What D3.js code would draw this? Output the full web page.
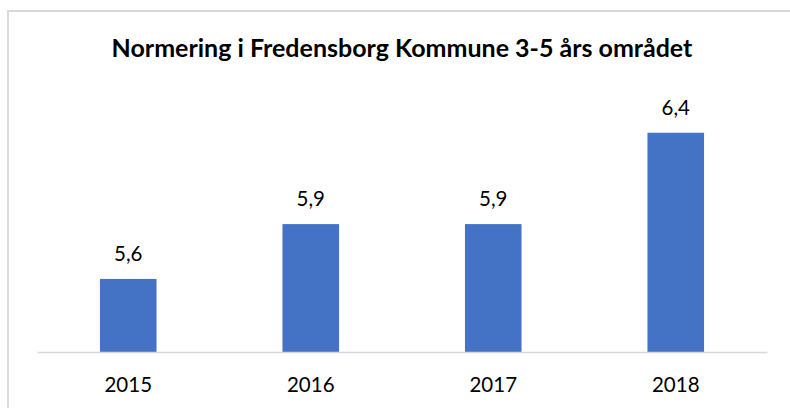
<!DOCTYPE html>
<html>
<head>
<meta charset="utf-8">
<script src="https://cdn.jsdelivr.net/npm/d3@7/dist/d3.min.js"></script>
<style>
  html, body { margin: 0; padding: 0; background: #fff; }
  svg { display: block; }
</style>
</head>
<body>
<svg id="chart" width="790" height="408"></svg>
<script>
const title = "Normering i Fredensborg Kommune 3-5 års området";
const categories = ["2015", "2016", "2017", "2018"];
const values = [5.6, 5.9, 5.9, 6.4];
const yDomain = [5.2, 6.6];

const svg = d3.select("#chart");
const font = "Lato, 'Open Sans', sans-serif";

// chart border
svg.append("rect")
  .attr("x", 8).attr("y", 11)
  .attr("width", 800).attr("height", 420)
  .attr("fill", "#fff")
  .attr("stroke", "#d9d9d9")
  .attr("stroke-width", 2);

const plot = { left: 37, right: 767, top: 96.2, bottom: 352 };

const x = d3.scaleBand()
  .domain(categories)
  .range([plot.left, plot.right])
  .paddingInner(0.69)
  .paddingOuter(0.345);

const y = d3.scaleLinear()
  .domain(yDomain)
  .range([plot.bottom, plot.top]);

// title
svg.append("text")
  .attr("x", 402).attr("y", 57)
  .attr("text-anchor", "middle")
  .attr("font-family", font)
  .attr("font-weight", "bold")
  .attr("font-size", 25)
  .attr("fill", "#000")
  .text(title);

// bars
svg.append("g").selectAll("rect")
  .data(values)
  .join("rect")
  .attr("x", (d, i) => x(categories[i]))
  .attr("y", d => y(d))
  .attr("width", x.bandwidth())
  .attr("height", d => plot.bottom - y(d))
  .attr("fill", "#4472C4");

// x axis
const xAxis = svg.append("g")
  .attr("transform", `translate(0,${plot.bottom})`)
  .call(d3.axisBottom(x).tickSize(0).tickPadding(25));
xAxis.select(".domain").attr("stroke", "#d9d9d9").attr("stroke-width", 1.5);
xAxis.selectAll("text")
  .attr("font-family", font)
  .attr("font-size", 20.5)
  .attr("fill", "#000");

// value labels
const fmt = v => d3.format(".1f")(v).replace(".", ",");
svg.append("g").selectAll("text")
  .data(values)
  .join("text")
  .attr("x", (d, i) => x(categories[i]) + x.bandwidth() / 2)
  .attr("y", d => y(d) - 18)
  .attr("text-anchor", "middle")
  .attr("font-family", font)
  .attr("font-size", 20.5)
  .attr("fill", "#000")
  .text(fmt);
</script>
</body>
</html>
